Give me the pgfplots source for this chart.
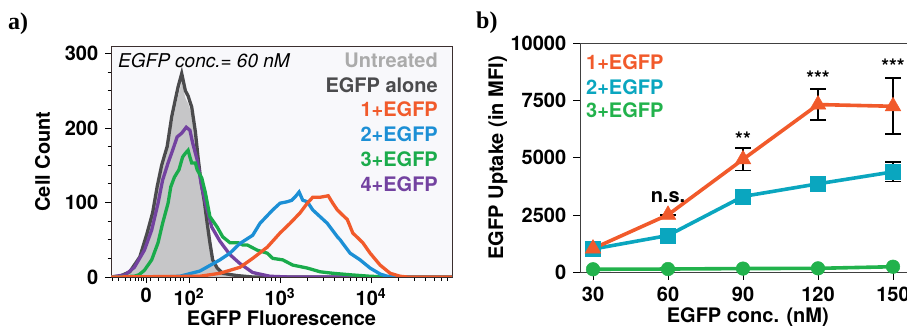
\documentclass[border=0pt]{standalone}
\usepackage{fontspec}
\setmainfont{TeX Gyre Heros}
\newfontfamily\serif{Liberation Serif}
\usepackage{pgfplots}
\pgfplotsset{compat=1.18}
\definecolor{cOrange}{HTML}{F15A2B}
\definecolor{cBlue}{HTML}{1C8FD5}
\definecolor{cGreenA}{HTML}{1AAB4B}
\definecolor{cPurple}{HTML}{7342A0}
\definecolor{cDark}{HTML}{4B4B4D}
\definecolor{cLight}{HTML}{ABABAB}
\definecolor{cFill}{HTML}{C6C6C8}
\definecolor{cCyan}{HTML}{0AA6BF}
\definecolor{cGreenB}{HTML}{22B24C}
\definecolor{bgA}{HTML}{F8F8FB}
\definecolor{frameA}{HTML}{3A2E2E}
\begin{document}
\fontsize{20bp}{24bp}\selectfont
\begin{tikzpicture}
\useasboundingbox (0,0) rectangle (907bp,329bp);
\node[anchor=base west, inner sep=0] at (8bp,299bp) {\fontsize{24bp}{28bp}\selectfont\serif\bfseries a)};
\node[anchor=base west, inner sep=0] at (476bp,300bp) {\fontsize{24bp}{28bp}\selectfont\serif\bfseries b)};
% ---------------- panel a
\begin{axis}[
  at={(111bp,52bp)}, anchor=south west,
  scale only axis, width=341bp, height=231bp,
  xmin=1.143, xmax=4.89, ymin=0, ymax=310,
  axis background/.style={fill=bgA},
  axis line style={draw=frameA, line width=0.8bp},
  tick pos=left, tick align=outside,
  major tick length=6bp, minor tick length=3.5bp,
  every tick/.style={black, line width=0.9bp},
  xtick={1.53,2,3,4},
  xticklabels={0,10\textsuperscript{2},10\textsuperscript{3},10\textsuperscript{4}},
  minor xtick={1.154,1.220,1.297,1.352,1.407,1.440,1.473,1.505,1.571,1.659,1.736,1.791,1.846,1.901,1.934,
    2.301,2.477,2.602,2.699,2.778,2.845,2.903,2.954,
    3.301,3.477,3.602,3.699,3.778,3.845,3.903,3.954,
    4.301,4.477,4.602,4.699,4.778,4.845},
  ytick={0,100,200,300},
  minor ytick={25,50,75,125,150,175,225,250,275},
  ticklabel style={font=\bfseries},
  xticklabel style={inner sep=2bp, yshift=-3bp},
  /pgf/number format/assume math mode=true,
  xlabel={\bfseries EGFP Fluorescence},
  ylabel={\bfseries Cell Count},
  xlabel style={at={(axis description cs:0.5,-0.212)}, anchor=base, inner sep=0},
  ylabel style={at={(axis description cs:-0.179,0.5)}, anchor=base, rotate=0},
  clip=true,
]
\addplot[draw=none, fill=cFill] coordinates {
(1.143,0)(1.24,1)(1.35,5)(1.46,22)(1.54,52)(1.60,80)(1.65,113)(1.70,142)(1.76,166)(1.81,203)(1.85,226)(1.88,243)(1.92,262)(1.96,240)(1.99,233)(2.03,218)(2.07,186)(2.10,152)(2.13,122)(2.17,93)(2.20,66)(2.23,41)(2.26,19)(2.31,9)(2.37,4)(2.52,1)(2.7,0)(4.89,0)
} \closedcycle;
\addplot[cDark, line width=3.3bp] coordinates {
(1.143,0)(1.24,1)(1.35,7)(1.46,27)(1.54,59)(1.60,86)(1.65,121)(1.70,150)(1.76,175)(1.81,215)(1.85,238)(1.88,255)(1.92,273)(1.96,250)(1.99,243)(2.03,228)(2.07,195)(2.10,160)(2.13,130)(2.17,100)(2.20,72)(2.23,46)(2.26,23)(2.31,12)(2.37,5)(2.52,2)(2.7,0)(4.89,0)
};
\addplot[cPurple, line width=3.3bp] coordinates {
(1.143,0)(1.30,3)(1.40,13)(1.51,36)(1.59,63)(1.66,99)(1.71,130)(1.77,153)(1.82,170)(1.87,188)(1.92,193)(1.97,201)(2.01,197)(2.04,180)(2.09,157)(2.14,121)(2.20,90)(2.25,67)(2.34,48)(2.45,30)(2.56,18)(2.70,6)(2.89,1)(3.1,0)(4.89,0)
};
\addplot[cGreenA, line width=3.3bp] coordinates {
(1.143,0)(1.40,1)(1.45,3)(1.51,9)(1.59,23)(1.66,46)(1.71,72)(1.77,99)(1.80,121)(1.84,134)(1.89,144)(1.93,161)(1.96,166)(1.99,170)(2.01,161)(2.03,153)(2.07,153)(2.09,144)(2.14,133)(2.18,113)(2.23,81)(2.31,67)(2.37,54)(2.45,46)(2.54,46)(2.59,43)(2.64,43)(2.75,36)(2.86,32)(2.92,25)(3.03,23)(3.14,16)(3.30,12)(3.44,7)(3.58,5)(3.77,3)(3.99,1)(4.2,0)(4.89,0)
};
\addplot[cBlue, line width=3.3bp] coordinates {
(1.143,0)(1.70,0)(1.90,1)(2.12,8)(2.34,23)(2.45,32)(2.56,45)(2.70,56)(2.78,72)(2.92,90)(3.00,99)(3.08,101)(3.13,103)(3.17,108)(3.21,114)(3.25,103)(3.30,101)(3.36,90)(3.52,72)(3.63,54)(3.66,50)(3.77,32)(3.88,23)(3.99,12)(4.10,4)(4.18,1)(4.3,0)(4.89,0)
};
\addplot[cOrange, line width=3.3bp] coordinates {
(1.143,0)(2.12,1)(2.34,5)(2.56,13)(2.70,25)(2.86,40)(3.00,59)(3.11,72)(3.22,86)(3.30,99)(3.36,107)(3.44,107)(3.53,109)(3.58,99)(3.63,90)(3.74,77)(3.80,59)(3.91,46)(3.99,32)(4.10,16)(4.21,5)(4.32,1)(4.4,0)(4.89,0)
};
\node[anchor=base west, inner sep=0] at (axis description cs:0.0205,0.908) {\itshape\fontsize{19bp}{22bp}\selectfont EGFP conc.= 60 nM};
\node[anchor=base east, inner sep=0, text=cLight] at (axis description cs:0.959,0.908) {\bfseries Untreated};
\node[anchor=base east, inner sep=0, text=cDark] at (axis description cs:0.959,0.800) {\bfseries EGFP alone};
\node[anchor=base east, inner sep=0, text=cOrange] at (axis description cs:0.959,0.693) {\bfseries 1+EGFP};
\node[anchor=base east, inner sep=0, text=cBlue] at (axis description cs:0.959,0.585) {\bfseries 2+EGFP};
\node[anchor=base east, inner sep=0, text=cGreenA] at (axis description cs:0.959,0.478) {\bfseries 3+EGFP};
\node[anchor=base east, inner sep=0, text=cPurple] at (axis description cs:0.959,0.370) {\bfseries 4+EGFP};
\end{axis}
% ---------------- panel b
\begin{axis}[
  at={(580bp,56.3bp)}, anchor=south west,
  scale only axis, width=329bp, height=229.7bp,
  xmin=24.8, xmax=156.4, ymin=0, ymax=10000,
  axis line style={draw=black!75, line width=0.9bp},
  tick pos=left, tick align=outside,
  major tick length=7bp,
  every tick/.style={black, line width=0.9bp},
  xtick={30,60,90,120,150},
  ytick={0,2500,5000,7500,10000},
  ticklabel style={font=\bfseries},
  /pgf/number format/assume math mode=true,
  /pgf/number format/1000 sep={},
  scaled y ticks=false,
  xlabel={\bfseries EGFP conc. (nM)},
  ylabel={\bfseries EGFP Uptake (in MFI)},
  xlabel style={at={(axis description cs:0.51,-0.215)}, anchor=base},
  ylabel style={at={(axis description cs:-0.234,0.5)}, anchor=base},
  clip=false,
]
\addplot[cGreenB, line width=3.6bp, mark=*, mark size=6.8bp, mark options={fill=cGreenB, draw=cGreenB, line width=0.5bp}] coordinates {
(30,150)(60,160)(90,180)(120,190)(150,260)
};
\addplot[cCyan, line width=3.6bp, mark=square*, mark size=7.5bp, mark options={fill=cCyan, draw=cCyan, line width=0.5bp},
  error bars/.cd, y dir=both, y explicit, error bar style={black, line width=1.8bp}, error mark options={black, line width=1.8bp, mark size=8bp, rotate=90}] coordinates {
(30,1030) +- (0,0)
(60,1620) +- (0,0)
(90,3320) +- (0,0)
(120,3870) +- (0,0)
(150,4390) +- (0,420)
};
\addplot[cOrange, line width=3.6bp, mark=triangle*, mark size=9bp, mark options={fill=cOrange, draw=cOrange, line width=0.5bp},
  error bars/.cd, y dir=both, y explicit, error bar style={black, line width=1.8bp}, error mark options={black, line width=1.8bp, mark size=8bp, rotate=90}] coordinates {
(30,1050) +- (0,0)
(60,2520) +- (0,0)
(90,4935) +- (0,485)
(120,7320) +- (0,670)
(150,7245) +- (0,1220)
};
\node[font=\bfseries] at (axis cs:60,3300) {n.s.};
\node[font=\bfseries] at (axis cs:90,5800) {**};
\node[font=\bfseries] at (axis cs:120,8450) {***};
\node[font=\bfseries] at (axis cs:150,9000) {***};
\node[anchor=base west, inner sep=0, text=cOrange] at (axis description cs:0.018,0.886) {\bfseries 1+EGFP};
\node[anchor=base west, inner sep=0, text=cCyan] at (axis description cs:0.018,0.777) {\bfseries 2+EGFP};
\node[anchor=base west, inner sep=0, text=cGreenB] at (axis description cs:0.018,0.677) {\bfseries 3+EGFP};
\end{axis}
\end{tikzpicture}
\end{document}
